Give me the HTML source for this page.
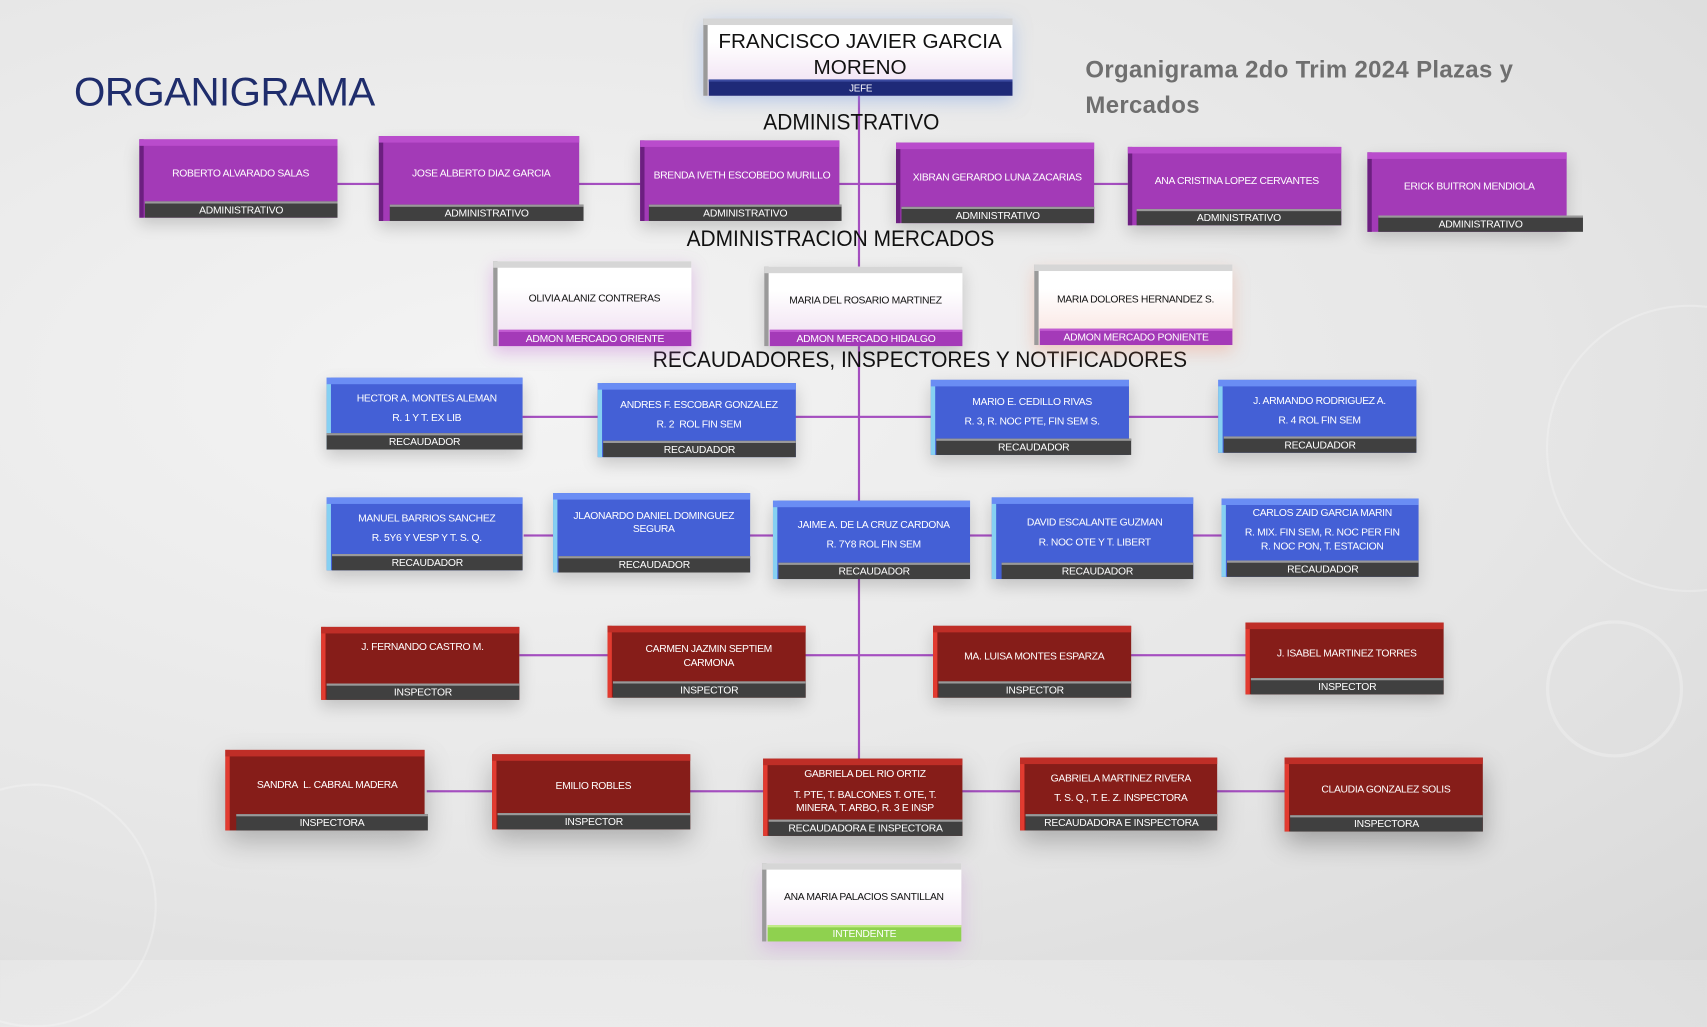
<!DOCTYPE html>
<html><head><meta charset="utf-8"><style>
html,body{margin:0;padding:0;width:1707px;height:960px;overflow:hidden}
html,body{background:radial-gradient(ellipse at 30% 40%,#f4f4f4 0%,#e6e6e6 60%,#d9d9d9 100%) #e2e2e2;font-family:"Liberation Sans",sans-serif}
#w{position:absolute;left:0;top:0;width:1568px;height:882px;transform:scale(1.0887,1.0884);transform-origin:0 0}
.n{position:absolute;box-sizing:border-box;box-shadow:0 6px 14px rgba(0,0,0,.18)}
.n:before{content:"";position:absolute;left:0;top:0;bottom:0;width:4px}
.n:after{content:"";position:absolute;left:0;top:0;right:0;height:6px}
.t{position:absolute;left:6px;right:2px;top:6px;bottom:15px;display:flex;align-items:center;justify-content:center;text-align:center;color:#fff;font-size:9.5px;letter-spacing:-.3px;line-height:1.85}
.t>div{width:100%}
.l{position:absolute;left:5px;right:0;bottom:0;height:15px;background:#404040;border-top:2px solid #9a9a9a;box-sizing:border-box;color:#fff;font-size:9.5px;letter-spacing:-.2px;line-height:13px;text-align:center}
.p{background:#a33ab7}.p:before{background:#6c1f80}.p:after{background:#b94ccc}
.b{background:#4460d6}.b:before{background:#86d0f2}.b:after{background:#6a8df4}
.r{background:#861d19}.r:before{background:#e23b30}.r:after{background:#bf2e27}
.wt{background:linear-gradient(#fff 30%,#eedcf0)}.wt:before{background:#9a9a9a}.wt:after{background:#d6d6d6}.wt .t{color:#111}
.wt .l{background:#a43ab8;border-top:2px solid #c25bd2}
.hl{position:absolute;height:2px;background:#a54fc0}
.sec{position:absolute;font-size:20px;color:#111;white-space:nowrap;transform:translateX(-50%) scaleX(.96)}
</style></head><body><div id="w">
<div style="position:absolute;left:1420px;top:280px;width:260px;height:260px;border:2px solid rgba(255,255,255,.25);border-radius:50%"></div>
<div style="position:absolute;left:1420px;top:570px;width:120px;height:120px;border:3px solid rgba(255,255,255,.25);border-radius:50%"></div>
<div style="position:absolute;left:-80px;top:720px;width:220px;height:220px;border:2px solid rgba(255,255,255,.25);border-radius:50%"></div>

<div style="position:absolute;left:788px;top:88px;width:2px;height:610px;background:#a54fc0"></div>
<div class="hl" style="left:310px;top:168px;width:726px"></div>
<div class="hl" style="left:480px;top:382px;width:640px"></div>
<div class="hl" style="left:481px;top:491px;width:642px"></div>
<div class="hl" style="left:477px;top:601px;width:668px"></div>
<div class="hl" style="left:392px;top:726px;width:790px"></div>

<div style="position:absolute;left:68px;top:64px;font-size:37px;color:#1f2d6c;letter-spacing:-.5px">ORGANIGRAMA</div>
<div style="position:absolute;left:997px;top:47px;font-size:22px;font-weight:bold;color:#6f6f6f;line-height:33px;letter-spacing:.3px">Organigrama 2do Trim 2024 Plazas y<br>Mercados</div>

<div class="n wt" style="left:646px;top:17px;width:284px;height:71px;box-shadow:0 4px 16px rgba(120,160,230,.5)"><div class="t" style="font-size:19px;line-height:24px;letter-spacing:0;bottom:14px;top:10px"><div>FRANCISCO JAVIER GARCIA<br>MORENO</div></div><div class="l" style="background:#1e2a78;border-top:2px solid #3a4aa0;font-size:9px">JEFE</div></div>

<div class="sec" style="left:782px;top:102px">ADMINISTRATIVO</div>
<div class="sec" style="left:772px;top:209px">ADMINISTRACION MERCADOS</div>
<div class="sec" style="left:845px;top:320px">RECAUDADORES, INSPECTORES Y NOTIFICADORES</div>

<div class="n p" style="left:128px;top:128px;width:182px;height:72px"><div class="t"><div>ROBERTO ALVARADO SALAS</div></div><div class="l">ADMINISTRATIVO</div></div>
<div class="n p" style="left:348px;top:125px;width:184px;height:78px"><div class="t"><div>JOSE ALBERTO DIAZ GARCIA</div></div><div class="l" style="left:10px;right:-4px">ADMINISTRATIVO</div></div>
<div class="n p" style="left:588px;top:129px;width:183px;height:74px"><div class="t"><div>BRENDA IVETH ESCOBEDO MURILLO</div></div><div class="l" style="left:8px;right:-2px">ADMINISTRATIVO</div></div>
<div class="n p" style="left:823px;top:131px;width:182px;height:74px"><div class="t"><div>XIBRAN GERARDO LUNA ZACARIAS</div></div><div class="l">ADMINISTRATIVO</div></div>
<div class="n p" style="left:1036px;top:135px;width:196px;height:72px"><div class="t"><div>ANA CRISTINA LOPEZ CERVANTES</div></div><div class="l" style="left:8px">ADMINISTRATIVO</div></div>
<div class="n p" style="left:1256px;top:140px;width:183px;height:73px"><div class="t"><div>ERICK BUITRON MENDIOLA</div></div><div class="l" style="left:10px;right:-15px">ADMINISTRATIVO</div></div>

<div class="n wt" style="left:453px;top:240px;width:182px;height:78px;box-shadow:0 6px 14px rgba(190,90,210,.35)"><div class="t"><div>OLIVIA ALANIZ CONTRERAS</div></div><div class="l">ADMON MERCADO ORIENTE</div></div>
<div class="n wt" style="left:702px;top:245px;width:182px;height:73px"><div class="t"><div>MARIA DEL ROSARIO MARTINEZ</div></div><div class="l">ADMON MERCADO HIDALGO</div></div>
<div class="n wt" style="left:950px;top:243px;width:182px;height:74px;background:linear-gradient(#fff 30%,#f8e0dc);box-shadow:0 6px 14px rgba(240,140,110,.35)"><div class="t"><div>MARIA DOLORES HERNANDEZ S.</div></div><div class="l">ADMON MERCADO PONIENTE</div></div>

<div class="n b" style="left:300px;top:347px;width:180px;height:66px"><div class="t"><div>HECTOR A. MONTES ALEMAN<br>R. 1 Y T. EX LIB</div></div><div class="l" style="left:0">RECAUDADOR</div></div>
<div class="n b" style="left:549px;top:352px;width:182px;height:68px"><div class="t"><div>ANDRES F. ESCOBAR GONZALEZ<br>R. 2&nbsp; ROL FIN SEM</div></div><div class="l">RECAUDADOR</div></div>
<div class="n b" style="left:855px;top:349px;width:182px;height:69px"><div class="t"><div>MARIO E. CEDILLO RIVAS<br>R. 3, R. NOC PTE, FIN SEM S.</div></div><div class="l" style="right:-2px">RECAUDADOR</div></div>
<div class="n b" style="left:1119px;top:349px;width:182px;height:67px"><div class="t"><div>J. ARMANDO RODRIGUEZ A.<br>R. 4 ROL FIN SEM</div></div><div class="l">RECAUDADOR</div></div>

<div class="n b" style="left:300px;top:457px;width:180px;height:67px"><div class="t"><div>MANUEL BARRIOS SANCHEZ<br>R. 5Y6 Y VESP Y T. S. Q.</div></div><div class="l">RECAUDADOR</div></div>
<div class="n b" style="left:508px;top:453px;width:181px;height:73px"><div class="t" style="line-height:1.3;align-items:flex-start;padding-top:10px"><div>JLAONARDO DANIEL DOMINGUEZ<br>SEGURA</div></div><div class="l">RECAUDADOR</div></div>
<div class="n b" style="left:710px;top:460px;width:181px;height:72px"><div class="t"><div>JAIME A. DE LA CRUZ CARDONA<br>R. 7Y8 ROL FIN SEM</div></div><div class="l">RECAUDADOR</div></div>
<div class="n b" style="left:911px;top:457px;width:185px;height:75px"><div class="t"><div>DAVID ESCALANTE GUZMAN<br>R. NOC OTE Y T. LIBERT</div></div><div class="l" style="left:9px">RECAUDADOR</div></div>
<div class="n b" style="left:1122px;top:458px;width:181px;height:72px"><div class="t" style="line-height:1.3;align-items:flex-start;padding-top:2px"><div>CARLOS ZAID GARCIA MARIN<div style="height:6px"></div>R. MIX. FIN SEM, R. NOC PER FIN<br>R. NOC PON, T. ESTACION</div></div><div class="l">RECAUDADOR</div></div>

<div class="n r" style="left:295px;top:576px;width:182px;height:67px"><div class="t" style="align-items:flex-start;padding-top:4px"><div>J. FERNANDO CASTRO M.</div></div><div class="l">INSPECTOR</div></div>
<div class="n r" style="left:558px;top:575px;width:182px;height:66px"><div class="t" style="line-height:1.3"><div>CARMEN JAZMIN SEPTIEM<br>CARMONA</div></div><div class="l">INSPECTOR</div></div>
<div class="n r" style="left:857px;top:575px;width:182px;height:66px"><div class="t"><div>MA. LUISA MONTES ESPARZA</div></div><div class="l">INSPECTOR</div></div>
<div class="n r" style="left:1144px;top:572px;width:182px;height:66px"><div class="t"><div>J. ISABEL MARTINEZ TORRES</div></div><div class="l">INSPECTOR</div></div>

<div class="n r" style="left:207px;top:689px;width:183px;height:74px;box-shadow:0 10px 24px rgba(0,0,0,.25)"><div class="t"><div>SANDRA&nbsp; L. CABRAL MADERA</div></div><div class="l" style="left:10px;right:-3px">INSPECTORA</div></div>
<div class="n r" style="left:452px;top:693px;width:182px;height:69px;box-shadow:0 10px 24px rgba(0,0,0,.25)"><div class="t"><div>EMILIO ROBLES</div></div><div class="l">INSPECTOR</div></div>
<div class="n r" style="left:701px;top:697px;width:183px;height:71px;box-shadow:0 10px 24px rgba(0,0,0,.25)"><div class="t" style="line-height:1.3"><div>GABRIELA DEL RIO ORTIZ<div style="height:6px"></div>T. PTE, T. BALCONES T. OTE, T.<br>MINERA, T. ARBO, R. 3 E INSP</div></div><div class="l">RECAUDADORA E INSPECTORA</div></div>
<div class="n r" style="left:937px;top:696px;width:181px;height:67px;box-shadow:0 10px 24px rgba(0,0,0,.25)"><div class="t"><div>GABRIELA MARTINEZ RIVERA<br>T. S. Q., T. E. Z. INSPECTORA</div></div><div class="l">RECAUDADORA E INSPECTORA</div></div>
<div class="n r" style="left:1180px;top:696px;width:182px;height:68px;box-shadow:0 10px 24px rgba(0,0,0,.3)"><div class="t"><div>CLAUDIA GONZALEZ SOLIS</div></div><div class="l">INSPECTORA</div></div>

<div class="n wt" style="left:700px;top:793px;width:183px;height:72px;box-shadow:0 8px 16px rgba(200,120,220,.35)"><div class="t"><div>ANA MARIA PALACIOS SANTILLAN</div></div><div class="l" style="background:#8fd14f;border-top:2px solid #c4ec8a">INTENDENTE</div></div>
</div></body></html>
